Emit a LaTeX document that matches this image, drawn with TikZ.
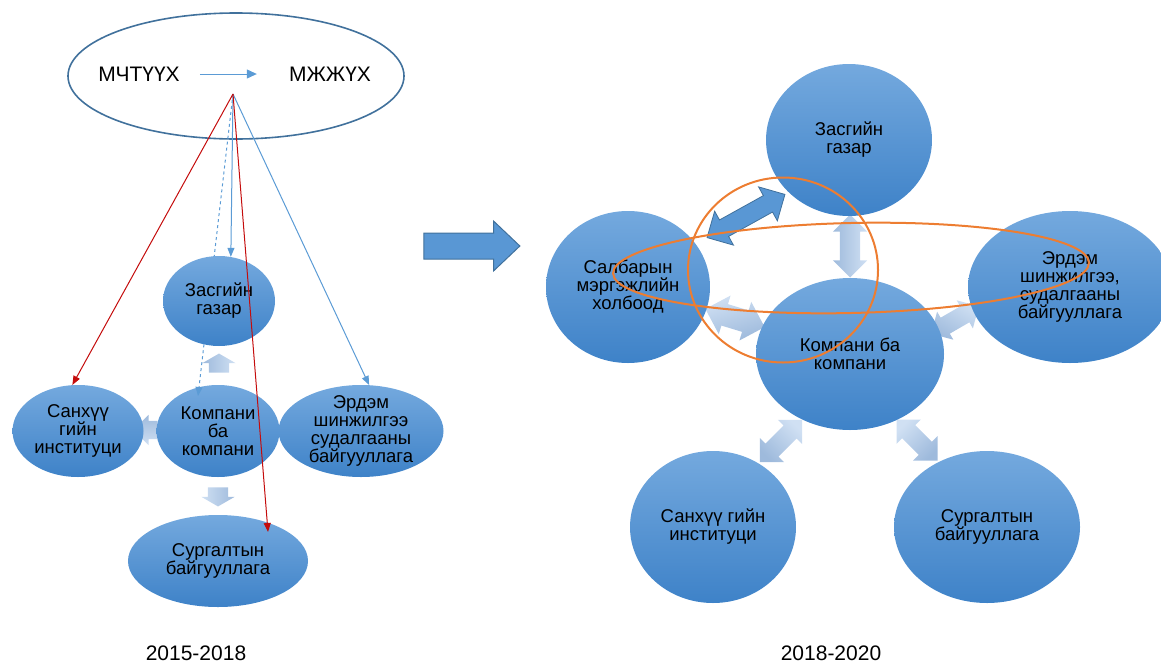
\documentclass[tikz,border=0pt]{standalone}
\usepackage{fontspec}
\setmainfont{Liberation Sans}
\usetikzlibrary{arrows.meta,shapes.geometric,shapes.arrows}
\definecolor{bubtop}{RGB}{116,169,222}
\definecolor{bubbot}{RGB}{62,130,200}
\definecolor{fadetop}{RGB}{208,224,243}
\definecolor{fadebot}{RGB}{158,186,220}
\definecolor{lineblue}{RGB}{91,155,213}
\definecolor{edgeblue}{RGB}{65,113,156}
\definecolor{fillblue}{RGB}{89,151,212}
\definecolor{redline}{RGB}{196,12,12}
\definecolor{ringorange}{RGB}{237,125,49}

\begin{document}
\begin{tikzpicture}[x=1pt, y=-1pt,
    bubble/.style={ellipse, inner sep=-4pt, top color=bubtop, bottom color=bubbot, align=center, font=\fontsize{18.5}{18}\selectfont},
    fade/.style={inner sep=0pt, rotate=#1, top color=fadetop, bottom color=fadebot, shading angle=-#1},
    ring/.style={ellipse, draw=ringorange, line width=2pt, inner sep=0pt},
    feed/.style={line width=1pt, -{Triangle[length=9pt, width=7pt]}},
    year/.style={font=\fontsize{21}{24}\selectfont}]
  \useasboundingbox (0,0) rectangle (1161,664);

  \node[ellipse, draw=edgeblue, line width=1.6pt, minimum width=336pt, minimum height=126pt] (top) at (236,76) {};
  \node[font=\fontsize{21}{24}\selectfont, inner sep=0pt] (mch) at (139,74) {МЧТҮҮХ};
  \node[font=\fontsize{21}{24}\selectfont, inner sep=0pt] (mzh) at (330,74) {МЖЖҮХ};
  \draw[lineblue, line width=1pt, -{Triangle[length=10pt, width=9pt]}, shorten <=20pt, shorten >=32pt] (mch) -- (mzh);
  \coordinate (fan) at (233,94);

  \node[fade=180, single arrow, inner ysep=9pt, minimum height=24pt, minimum width=30pt, single arrow head extend=6pt] (lleft) at (150,430) {};
  \node[fade=90, single arrow, inner ysep=10pt, minimum height=19pt, minimum width=33pt, single arrow head extend=6.5pt, single arrow tip angle=120] (lup) at (219,366) {};
  \node[fade=-90, single arrow, inner ysep=10pt, minimum height=19pt, minimum width=33pt, single arrow head extend=6.5pt, single arrow tip angle=120] (ldown) at (218,494) {};
  \node[bubble, minimum width=123pt, minimum height=92pt] (lkom) at (218,431) {Компани\\ба\\компани};
  \draw[feed, lineblue, dashed] (fan) -- ([shift={(-20,-35)}]lkom.center);
  \node[bubble, minimum width=112pt, minimum height=90pt] (lzas) at (219,301) {Засгийн\\газар};
  \node[bubble, minimum width=131pt, minimum height=92pt] (lsan) at (78,431) {Санхүү\\гийн\\институци};
  \node[bubble, minimum width=165pt, minimum height=92pt] (lerd) at (361,431) {Эрдэм\\шинжилгээ\\судалгааны\\байгууллага};
  \node[bubble, minimum width=180pt, minimum height=92pt] (lsur) at (218,561) {Сургалтын\\байгууллага};
  \draw[feed, lineblue] (fan) -- (lzas.75);
  \draw[feed, lineblue] (fan) -- (lerd.80);
  \draw[feed, redline] (fan) -- (lsan.97);
  \draw[feed, redline] (fan) -- ([shift={(50,-29)}]lsur.center);

  \node[single arrow, fill=fillblue, draw=edgeblue, line width=1pt, inner xsep=0pt, inner ysep=12.5pt, minimum height=96pt, minimum width=49pt, single arrow head extend=12pt, single arrow tip angle=87] (go) at (465,246) {};

  \node[fade=90, double arrow, inner ysep=10pt, minimum height=63pt, minimum width=34pt, double arrow head extend=7pt] (rv) at (850,246) {};
  \node[fade=-17, double arrow, inner ysep=11pt, minimum height=62pt, minimum width=40pt, double arrow head extend=9pt] (rsk) at (735,318) {};
  \node[fade=30, double arrow, inner ysep=9pt, minimum height=55pt, minimum width=32pt, double arrow head extend=7pt] (rek) at (955,320) {};
  \node[fade=45, double arrow, inner ysep=9pt, minimum height=60pt, minimum width=34pt, double arrow head extend=8pt] (rks) at (781,441) {};
  \node[fade=-45, double arrow, inner ysep=9pt, minimum height=58pt, minimum width=34pt, double arrow head extend=8pt] (rkr) at (917,440) {};
  \node[double arrow, rotate=29, fill=fillblue, draw=edgeblue, line width=.8pt, inner xsep=0pt, inner ysep=9pt, minimum height=89pt, minimum width=38pt, double arrow head extend=10pt] (rdark) at (746,216) {};
  \node[bubble, minimum width=166pt, minimum height=152pt] (rzas) at (849,140) {Засгийн\\газар};
  \node[bubble, minimum width=164pt, minimum height=152pt] (rsal) at (628,287) {Салбарын\\мэргэжлийн\\холбоод};
  \node[bubble, minimum width=188pt, minimum height=152pt] (rkom) at (850,354) {Компани ба\\компани};
  \node[bubble, minimum width=204pt, minimum height=152pt] (rerd) at (1070,287) {Эрдэм\\шинжилгээ,\\судалгааны\\байгууллага};
  \node[bubble, minimum width=166pt, minimum height=152pt] (rsan) at (713,527) {Санхүү гийн\\институци};
  \node[bubble, minimum width=186pt, minimum height=152pt] (rsur) at (987,527) {Сургалтын\\байгууллага};
  \node[ring, minimum width=190pt, minimum height=185pt] (ring1) at (783,270) {};
  \node[ring, rotate=1.3, minimum width=476pt, minimum height=90pt] (ring2) at (851,268) {};

  \node[year] (y1) at (196,653) {2015-2018};
  \node[year] (y2) at (831,653) {2018-2020};
\end{tikzpicture}
\end{document}
